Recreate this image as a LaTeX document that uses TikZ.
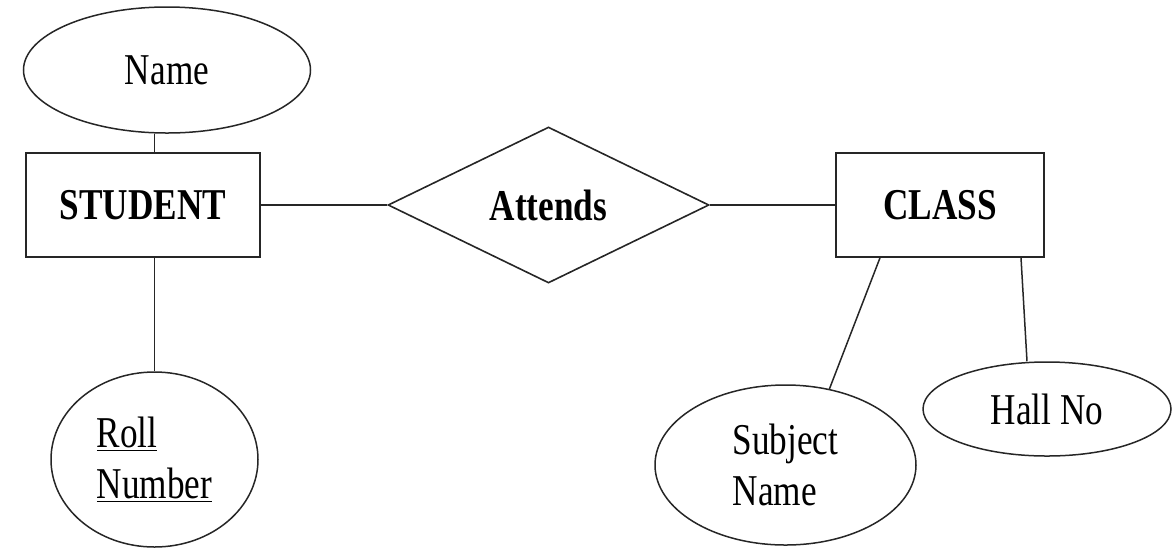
\documentclass[tikz,border=0pt]{standalone}
\usepackage{fontspec}
\setmainfont{Liberation Serif}[FakeStretch=0.8]
\usepackage{tikz}
\usetikzlibrary{calc}
\usetikzlibrary{shapes.geometric}

\newcommand\keyattr[1]{\underline{#1}}

\tikzset{
  entity/.style={draw, black!85, line width=0.8pt, rectangle, minimum height=52pt, text=black, font=\fontsize{22}{25.5}\selectfont\bfseries},
  relation/.style={draw, black!85, line width=0.8pt, diamond, aspect=2, text=black, font=\fontsize{22}{25.5}\selectfont\bfseries},
  attrib/.style={draw, black!85, line width=0.75pt, ellipse, text=black, font=\fontsize{22}{25.5}\selectfont},
  link/.style={black!85, line width=0.75pt}
}

\begin{document}
\begin{tikzpicture}[x=0.5pt, y=-0.5pt, inner sep=0pt]

\useasboundingbox (0,0) rectangle (1173,548);

\node[attrib, minimum width=143.5pt, minimum height=63pt] (name) at (167,70) {Name};
\node[entity, minimum width=117pt] (student) at (143,205) {STUDENT};
\node[relation, minimum width=160.5pt, minimum height=78pt] (attends) at (548.5,205) {Attends};
\node[entity, minimum width=104pt] (class) at (940,205) {CLASS};
\node[attrib, minimum width=103.5pt, minimum height=87.5pt, align=left] (roll) at (154.5,459.5) {\keyattr{Roll}\\\keyattr{Number}};
\node[attrib, minimum width=130.5pt, minimum height=80pt, align=left] (subject) at (785.5,465) {Subject\\Name};
\node[attrib, minimum width=124pt, minimum height=47pt] (hall) at (1047,409) {Hall No};

\draw[link] (name.south -| roll.north) -- (student.north -| roll.north);
\draw[link] (student.south -| roll.north) -- (roll.north);
\draw[link] (student) -- (attends);
\draw[link] (attends) -- (class);
\draw[link] ([xshift=-30pt]class.south) -- (subject.60);
\draw[link] ([xshift=40.5pt]class.south) -- ([xshift=-10pt]hall.north);

\end{tikzpicture}
\end{document}
